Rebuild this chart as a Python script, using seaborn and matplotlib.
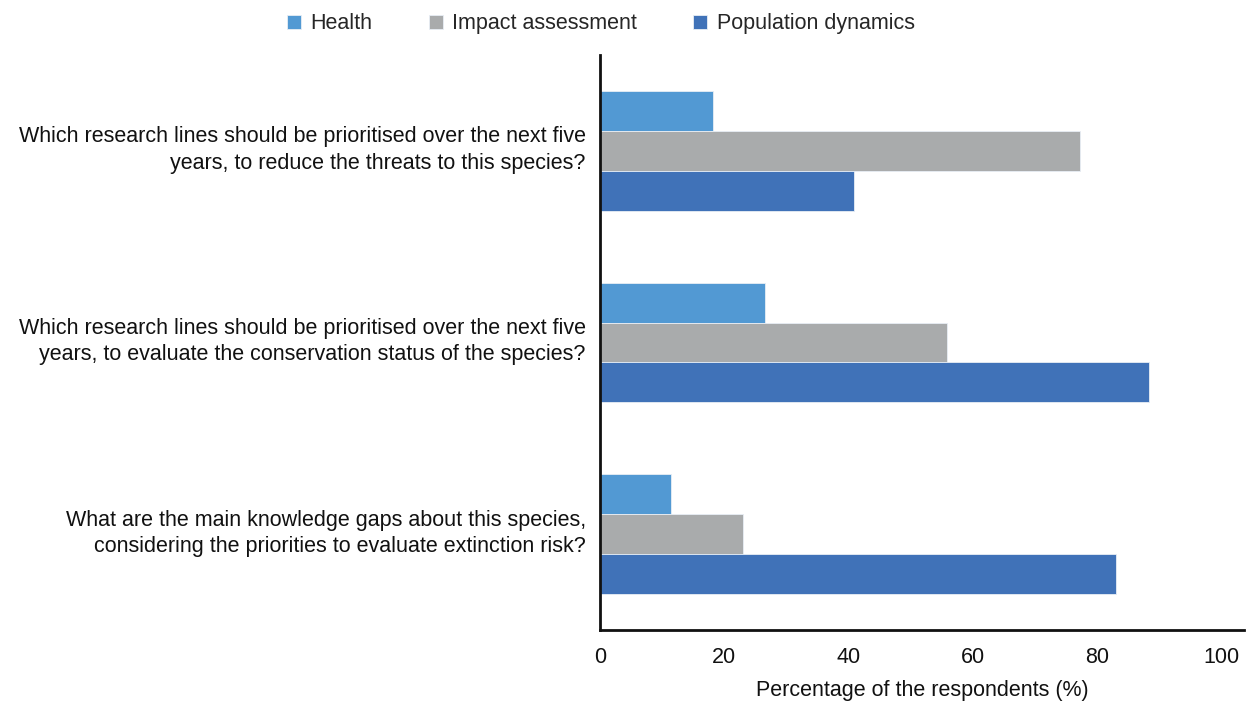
import matplotlib
matplotlib.use("Agg")
import matplotlib.pyplot as plt
import matplotlib.transforms as mtransforms
import seaborn as sns
import pandas as pd

questions = [
    "Which research lines should be prioritised over the next five\nyears, to reduce the threats to this species?",
    "Which research lines should be prioritised over the next five\nyears, to evaluate the conservation status of the species?",
    "What are the main knowledge gaps about this species,\nconsidering the priorities to evaluate extinction risk?",
]
series = ["Health", "Impact assessment", "Population dynamics"]
health = [18.2, 26.6, 11.5]
impact = [77.3, 55.9, 23.0]
population = [40.9, 88.3, 83.0]
colors = ["#5299D3", "#A9ABAC", "#4072B8"]
x_ticks = [0, 20, 40, 60, 80, 100]

rows = []
for name, vals in zip(series, [health, impact, population]):
    for q, v in zip(questions, vals):
        rows.append({"question": q, "group": name, "value": v})
df = pd.DataFrame(rows)

sns.set_theme(style="white")
plt.rcParams["font.family"] = ["Liberation Sans", "DejaVu Sans"]

FS = 15.5
fig = plt.figure(figsize=(12.52, 7.02), dpi=100)
ax = fig.add_axes([0.479, 0.1026, 0.515, 0.819])

sns.barplot(data=df, y="question", x="value", hue="group", order=questions,
            hue_order=series, palette=colors, width=0.625, orient="h",
            saturation=1, linewidth=0.6, edgecolor="#E8EEF5", ax=ax, legend=True)

ax.set_xlim(0, 103.7)
ax.set_ylim(2.5, -0.5)
ax.set_xticks(x_ticks)
ax.set_xticklabels([str(t) for t in x_ticks], fontsize=FS, color="#111111")
ax.tick_params(axis="y", labelsize=FS, length=0, pad=10, labelcolor="#111111")
ax.tick_params(axis="x", length=0, pad=12)

# Category labels sit a little above the centre of each bar group
lift = mtransforms.ScaledTranslation(0, 6 / 100, fig.dpi_scale_trans)
for lbl in ax.get_yticklabels():
    lbl.set_horizontalalignment("right")
    lbl.set_multialignment("right")
    lbl.set_linespacing(1.33)
    lbl.set_transform(lbl.get_transform() + lift)
ax.set_ylabel("")
ax.set_xlabel("Percentage of the respondents (%)", fontsize=FS, labelpad=9, color="#111111")

for side in ["top", "right"]:
    ax.spines[side].set_visible(False)
for side in ["left", "bottom"]:
    ax.spines[side].set_color("#111111")
    ax.spines[side].set_linewidth(2)

handles, labels = ax.get_legend_handles_labels()
ax.get_legend().remove()
fig.legend(handles, labels, loc="center", bbox_to_anchor=(0.48, 0.966), ncol=3,
           frameon=False, fontsize=FS, handlelength=0.65, handleheight=0.65,
           handletextpad=0.46, columnspacing=2.6)

fig.savefig("out.png", dpi=100)
